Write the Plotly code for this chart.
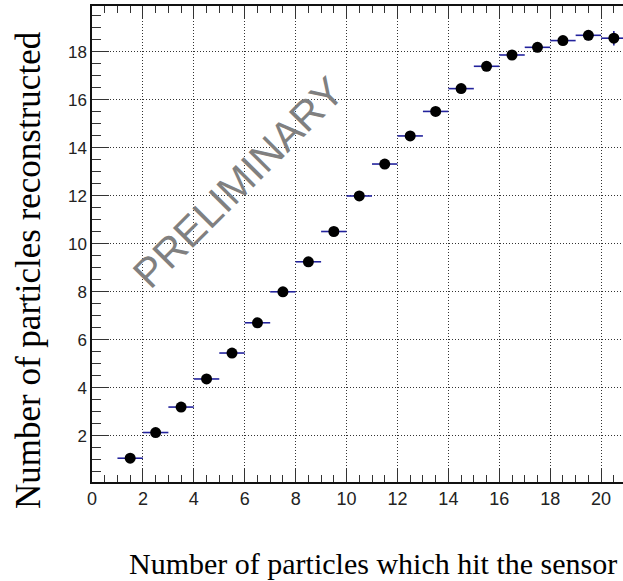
import plotly.graph_objects as go

# Data
x_centers = [1.5, 2.5, 3.5, 4.5, 5.5, 6.5, 7.5, 8.5, 9.5, 10.5,
             11.5, 12.5, 13.5, 14.5, 15.5, 16.5, 17.5, 18.5, 19.5, 20.5]
y_values = [1.07, 2.14, 3.20, 4.37, 5.45, 6.71, 8.00, 9.25, 10.51, 11.99,
            13.32, 14.49, 15.51, 16.46, 17.39, 17.86, 18.18, 18.46, 18.68, 18.56]
x_errors = [0.5] * 20
y_errors = [0.03, 0.04, 0.05, 0.05, 0.06, 0.06, 0.07, 0.07, 0.08, 0.08,
            0.09, 0.09, 0.10, 0.10, 0.11, 0.12, 0.14, 0.17, 0.21, 0.30]

x_title = "Number of particles which hit the sensor"
y_title = "Number of particles reconstructed"
watermark = "PRELIMINARY"

fig = go.Figure()
fig.add_trace(go.Scatter(
    x=x_centers, y=y_values, mode="markers",
    marker=dict(color="black", size=11, symbol="circle"),
    error_x=dict(type="data", array=x_errors, color="#23239c", thickness=1.6, width=0),
    error_y=dict(type="data", array=y_errors, color="#23239c", thickness=1.6, width=0),
    showlegend=False,
))

W, H = 623, 581
L, R, T, B = 92, 0, 6, 99
pw, ph = W - L - R, H - T - B

def px(xp):
    return (xp - L) / pw

def py(yp):
    return (H - B - yp) / ph

def axis_style(major_len, minor_len, fsize):
    return dict(
        showline=True, linecolor="#111111", linewidth=1.5,
        ticks="inside", ticklen=major_len, tickwidth=1.2, tickcolor="#333333",
        showgrid=True, gridcolor="#333333", gridwidth=1, griddash="1px,2px",
        zeroline=False,
        tickfont=dict(family="Liberation Sans, Arial, sans-serif", size=fsize, color="#222222"),
        minor=dict(ticks="inside", ticklen=minor_len, tickwidth=1.2, tickcolor="#333333",
                   dtick=0.5, showgrid=False),
    )

fig.update_layout(
    width=W, height=H,
    margin=dict(l=L, r=R, t=T, b=B, autoexpand=False),
    paper_bgcolor="white", plot_bgcolor="white",
    xaxis=dict(range=[0, 20.86], dtick=2, tick0=0, mirror="ticks", **axis_style(13, 7, 18)),
    yaxis=dict(range=[0.08, 19.9], dtick=2, tick0=0, mirror=False, **axis_style(17, 9, 17)),
    annotations=[
        dict(text=x_title, xref="paper", yref="paper", x=px(373), y=py(563),
             xanchor="center", yanchor="middle", showarrow=False,
             font=dict(family="Liberation Serif, Times New Roman, serif", size=30, color="black")),
        dict(text=y_title, xref="paper", yref="paper", x=px(28), y=py(270),
             xanchor="center", yanchor="middle", showarrow=False, textangle=-90,
             font=dict(family="Liberation Serif, Times New Roman, serif", size=35, color="black")),
        dict(text=watermark, xref="paper", yref="paper", x=px(238), y=py(183),
             xanchor="center", yanchor="middle", showarrow=False, textangle=-45,
             font=dict(family="Liberation Sans, Arial, sans-serif", size=41, color="#808080")),
    ],
)

fig.write_html("out.html", config={"displayModeBar": False},
               post_script="document.body.style.margin='0';document.body.style.overflow='hidden';")
